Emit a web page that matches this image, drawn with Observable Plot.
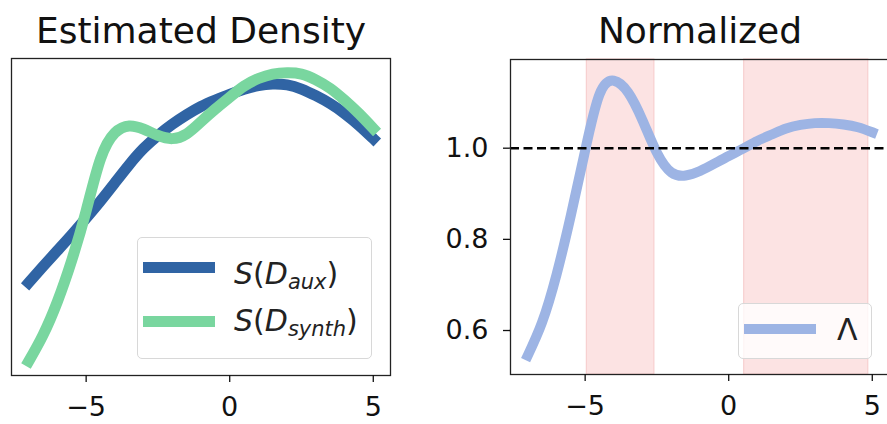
<!DOCTYPE html>
<html><head><meta charset="utf-8">
<script src="https://cdn.jsdelivr.net/npm/d3@7"></script>
<script src="https://cdn.jsdelivr.net/npm/@observablehq/plot@0.6"></script>
<style>
body{margin:0;background:#fff;}
#wrap{position:relative;width:887px;height:424px;overflow:hidden;font-family:"DejaVu Sans";color:#111;}
.plot{position:absolute;top:0;}
.legend{position:absolute;border:1px solid #d8d8d8;border-radius:5px;background:rgba(255,255,255,0.8);box-sizing:border-box;}
.handle{position:absolute;}
.ltxt{position:absolute;font-size:30px;line-height:1;white-space:nowrap;color:#222;}
.ltxt i{font-style:italic;}
.ltxt sub{font-size:0.7em;vertical-align:-0.22em;line-height:0;}
</style>
</head><body>
<div id="wrap"></div>
<script>
// ---- data ----
const xs = [-7, -6.5, -6, -5.5, -5, -4.5, -4, -3.5, -3, -2.5, -2, -1.5, -1, -0.5, 0, 0.5, 1, 1.5, 2, 2.5, 3, 3.5, 4, 4.5, 5];
const auxDensity = [0.294, 0.345, 0.395, 0.445, 0.497, 0.551, 0.608, 0.665, 0.716, 0.757, 0.792, 0.822, 0.848, 0.868, 0.886, 0.902, 0.914, 0.919, 0.916, 0.903, 0.882, 0.857, 0.826, 0.789, 0.747];
const synthDensity = [0.047, 0.13, 0.235, 0.365, 0.52, 0.683, 0.765, 0.787, 0.777, 0.757, 0.747, 0.762, 0.800, 0.840, 0.877, 0.912, 0.936, 0.950, 0.954, 0.950, 0.932, 0.905, 0.868, 0.826, 0.779];
const lambdaValues = [0.545, 0.618, 0.722, 0.852, 0.995, 1.118, 1.148, 1.122, 1.061, 0.99, 0.947, 0.940, 0.950, 0.966, 0.983, 0.999, 1.016, 1.030, 1.043, 1.051, 1.055, 1.055, 1.052, 1.046, 1.035];
const shadeStart = [-4.94, 0.54];
const shadeEnd = [-2.59, 4.86];
const xTicks = [-5, 0, 5];
const yTicks = [0.6, 0.8, 1.0];
const titles = ["Estimated Density", "Normalized"];
const referenceLevel = [1.0];

const aux = xs.map((x, i) => ({x, y: auxDensity[i]}));
const synth = xs.map((x, i) => ({x, y: synthDensity[i]}));
const lam = xs.map((x, i) => ({x, y: lambdaValues[i]}));
const regions = shadeStart.map((s, i) => ({start: s, end: shadeEnd[i]}));

const wrap = document.getElementById("wrap");
const common = {fontFamily: "DejaVu Sans", fontSize: "27px", color: "#111", overflow: "visible", background: "transparent"};
const xAxis = () => Plot.axisX({ticks: xTicks, tickSize: 7, tickPadding: 14, strokeWidth: 1.3, fontSize: 27, label: null});

const left = Plot.plot({
  width: 400, height: 424,
  marginLeft: 11, marginRight: 10, marginTop: 58, marginBottom: 49,
  style: common,
  x: {domain: [-7.6, 5.6]},
  y: {domain: [0.002, 0.999], axis: null},
  marks: [
    Plot.line(aux, {x: "x", y: "y", stroke: "#3064a4", strokeWidth: 11, curve: "natural", strokeLinecap: "square"}),
    Plot.line(synth, {x: "x", y: "y", stroke: "#79d69f", strokeWidth: 11, curve: "natural", strokeLinecap: "square"}),
    Plot.frame({stroke: "#222", strokeWidth: 1.3}),
    xAxis(),
    Plot.text([titles[0]], {text: d => d, frameAnchor: "top", lineAnchor: "bottom", dy: -16, fontSize: 36, fill: "#111"})
  ]
});
left.classList.add("plot");
left.style.left = "0px";
wrap.appendChild(left);

const right = Plot.plot({
  width: 459, height: 424,
  marginLeft: 70, marginRight: 10, marginTop: 59, marginBottom: 50,
  style: common,
  x: {domain: [-7.6, 5.6]},
  y: {domain: [0.5035, 1.1946]},
  marks: [
    Plot.rect(regions, {x1: "start", x2: "end", fill: "#fce3e3", stroke: "#f7cfcf", strokeWidth: 1.2}),
    Plot.line(lam, {x: "x", y: "y", stroke: "#9db4e4", strokeWidth: 10, curve: "natural", strokeLinecap: "square"}),
    Plot.ruleY(referenceLevel, {stroke: "#000", strokeWidth: 2.4, strokeDasharray: "9,4.5"}),
    Plot.frame({stroke: "#222", strokeWidth: 1.3}),
    xAxis(),
    Plot.axisY({ticks: yTicks, tickSize: 7, tickPadding: 15, strokeWidth: 1.3, tickFormat: d3.format(".1f"), fontSize: 27, label: null}),
    Plot.text([titles[1]], {text: d => d, frameAnchor: "top", lineAnchor: "bottom", dy: -17, fontSize: 36, fill: "#111"})
  ]
});
right.classList.add("plot");
right.style.left = "440px";
wrap.appendChild(right);

// ---- legends ----
function legend(box, entries) {
  const d = document.createElement("div");
  d.className = "legend";
  Object.assign(d.style, {left: box[0] + "px", top: box[1] + "px", width: box[2] + "px", height: box[3] + "px"});
  entries.forEach(e => {
    const h = document.createElement("div");
    h.className = "handle";
    Object.assign(h.style, {left: "5px", top: (e.cy - e.w / 2) + "px", width: "72px", height: e.w + "px", background: e.color});
    d.appendChild(h);
    const t = document.createElement("div");
    t.className = "ltxt";
    Object.assign(t.style, {left: e.tx + "px", top: e.ty + "px"});
    t.innerHTML = e.html;
    d.appendChild(t);
  });
  wrap.appendChild(d);
}
legend([137, 237, 235, 122], [
  {color: "#3064a4", w: 11, cy: 29.7, tx: 96, ty: 21, html: "<i>S</i>(<i>D</i><sub><i>aux</i></sub>)"},
  {color: "#79d69f", w: 11, cy: 83.7, tx: 96, ty: 68, html: "<i>S</i>(<i>D</i><sub><i>synth</i></sub>)"}
]);
legend([738, 303, 134, 56], [
  {color: "#9db4e4", w: 10, cy: 24.7, tx: 98, ty: 11, html: "Λ"}
]);
</script>
</body></html>
